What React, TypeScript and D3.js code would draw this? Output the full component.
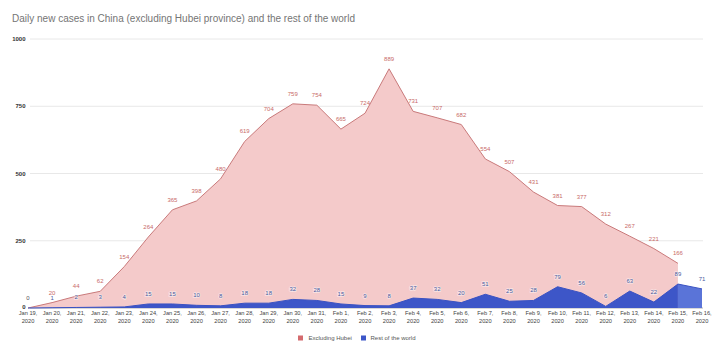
import React from "react";
import * as d3 from "d3";

const dates = [
  "Jan 19", "Jan 20", "Jan 21", "Jan 22", "Jan 23", "Jan 24", "Jan 25", "Jan 26", "Jan 27",
  "Jan 28", "Jan 29", "Jan 30", "Jan 31", "Feb 1", "Feb 2", "Feb 3", "Feb 4", "Feb 5",
  "Feb 6", "Feb 7", "Feb 8", "Feb 9", "Feb 10", "Feb 11", "Feb 12", "Feb 13", "Feb 14",
  "Feb 15", "Feb 16",
];
const excludingHubei = [
  0, 20, 44, 62, 154, 264, 365, 398, 480, 619, 704, 759, 754, 665, 724, 889, 731, 707,
  682, 554, 507, 431, 381, 377, 312, 267, 221, 166,
];
const restOfWorld = [
  0, 1, 2, 3, 4, 15, 15, 10, 8, 18, 18, 32, 28, 15, 9, 8, 37, 32, 20, 51, 25, 28, 79, 56,
  6, 63, 22, 89, 71,
];
const yTicks = [0, 250, 500, 750, 1000];
const title = "Daily new cases in China (excluding Hubei province) and the rest of the world";
const seriesNames = ["Excluding Hubei", "Rest of the world"];

const FONT = "Arial, 'Liberation Sans', sans-serif";

export default function App() {
  const x = d3.scalePoint<string>().domain(dates).range([28, 702]);
  const y = d3.scaleLinear().domain([0, 1000]).range([308, 39]);

  const pinkData = excludingHubei.map((v, i) => ({ d: dates[i], v }));
  const blueData = restOfWorld.map((v, i) => ({ d: dates[i], v }));
  const blueUnder = blueData.slice(0, excludingHubei.length);
  const blueAfter = blueData.slice(excludingHubei.length - 1);

  const area = d3
    .area<{ d: string; v: number }>()
    .x((p) => x(p.d)!)
    .y0(y(0))
    .y1((p) => y(p.v));
  const line = d3
    .line<{ d: string; v: number }>()
    .x((p) => x(p.d)!)
    .y((p) => y(p.v));

  return (
    <div style={{ position: "fixed", left: 0, top: 0 }}>
      <svg width={720} height={353} style={{ display: "block", background: "#fff" }}>
        <text x={12} y={21.5} fontFamily={FONT} fontSize={10} fill="#757575">
          {title}
        </text>
        {yTicks.map((t) => (
          <g key={t}>
            <line x1={30} x2={703} y1={y(t)} y2={y(t)} stroke={t === 0 ? "#9e9e9e" : "#e2e2e2"} strokeWidth={0.8} />
            <text x={25.5} y={y(t) + (t === 0 ? 1.3 : 2)} textAnchor="end" fontFamily={FONT} fontSize={6} fontWeight="bold" fill="#333">
              {t}
            </text>
          </g>
        ))}
        <path d={area(pinkData) || ""} fill="#f4caca" />
        <path d={area(blueAfter) || ""} fill="#5a74d8" />
        <path d={area(blueUnder) || ""} fill="#3d56c8" />
        <path d={line(pinkData) || ""} fill="none" stroke="#c97a7b" strokeWidth={1} />
        <path d={line(blueData) || ""} fill="none" stroke="#3a52c2" strokeWidth={1} />
        {pinkData.map((p, i) =>
          i === 0 ? null : (
            <text key={"p" + i} x={x(p.d)!} y={y(p.v) - 8} textAnchor="middle" fontFamily={FONT} fontSize={6} fill="#c86a68">
              {p.v}
            </text>
          )
        )}
        {blueData.map((p, i) => (
          <text
            key={"b" + i}
            x={x(p.d)!}
            y={y(p.v) - 8}
            textAnchor="middle"
            fontFamily={FONT}
            fontSize={6}
            fill={i === 0 ? "#555" : "#4a5a9e"}
            stroke="#fff"
            strokeOpacity={0.5}
            strokeWidth={1.5}
            style={{ paintOrder: "stroke" }}
          >
            {p.v}
          </text>
        ))}
        {dates.map((d) => (
          <text key={d} x={x(d)!} textAnchor="middle" fontFamily={FONT} fontSize={5.7} fill="#444">
            <tspan x={x(d)!} y={315}>{d + ","}</tspan>
            <tspan x={x(d)!} y={322.5}>2020</tspan>
          </text>
        ))}
        <rect x={298} y={335.5} width={5} height={5} fill="#d46b6e" />
        <text x={308.5} y={340} fontFamily={FONT} fontSize={6} fill="#555">{seriesNames[0]}</text>
        <rect x={361} y={335.5} width={5} height={5} fill="#3d56c8" />
        <text x={370.5} y={340} fontFamily={FONT} fontSize={6} fill="#555">{seriesNames[1]}</text>
      </svg>
    </div>
  );
}
